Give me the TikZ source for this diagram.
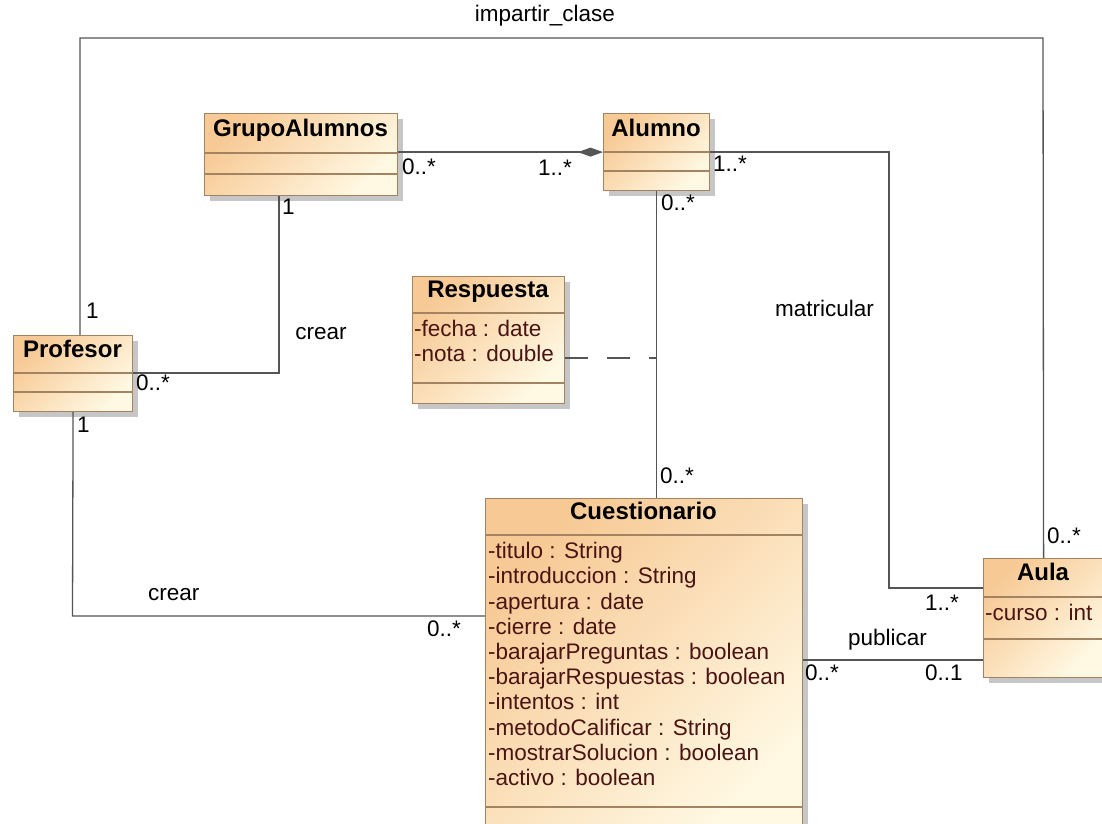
\documentclass[tikz,border=0pt]{standalone}
\usepackage{fontspec}
\setmainfont{Liberation Sans}
\usetikzlibrary{arrows.meta,shadows,calc}
\definecolor{ctop}{RGB}{247,201,148}
\definecolor{cbot}{RGB}{255,249,228}
\definecolor{bordc}{RGB}{163,131,98}
\definecolor{linec}{RGB}{85,85,85}
\definecolor{attrc}{RGB}{75,20,20}
\definecolor{shadc}{RGB}{192,192,192}
\begin{document}
\begin{tikzpicture}[x=1pt,y=-1pt,
  cls/.style={rectangle, draw=bordc, line width=1.2pt, top color=ctop, bottom color=cbot, shading angle=45, inner sep=0pt, anchor=north west,
    drop shadow={shadow xshift=5pt, shadow yshift=-5pt, fill=shadc, opacity=0.9}},
  sep/.style={draw=bordc, line width=1.2pt},
  cname/.style={font=\fontsize{24}{28}\selectfont\bfseries, inner sep=0pt, text height=0.72em, text depth=0pt},
  attr/.style={font=\fontsize{22.5}{26}\selectfont, text=attrc, anchor=west, inner sep=0pt, text height=0.72em, text depth=0pt},
  lbl/.style={font=\fontsize{22.5}{26}\selectfont, inner sep=0pt, anchor=west, text height=0.72em, text depth=0pt},
  conn/.style={draw=linec, line width=1.3pt},
]
\useasboundingbox (0,0) rectangle (1102,823);
\fill[white] (0,0) rectangle (1102,823);
\clip (0,0) rectangle (1102,823);

% ---- class boxes ----
\node[cls, minimum width=193pt, minimum height=82pt] (GA) at (204,113) {};
\node[cls, minimum width=106pt, minimum height=77pt] (AL) at (603,113) {};
\node[cls, minimum width=152pt, minimum height=127pt] (RE) at (412,276) {};
\node[cls, minimum width=119pt, minimum height=76pt] (P) at (13,335) {};
\node[cls, minimum width=317pt, minimum height=340pt] (CU) at (485,498) {};
\node[cls, minimum width=120pt, minimum height=119pt] (AU) at (983,558) {};

% compartments
\draw[sep] (204,153) -- (397,153) (204,174) -- (397,174);
\draw[sep] (603,152) -- (709,152) (603,171) -- (709,171);
\draw[sep] (412,313) -- (564,313) (412,383) -- (564,383);
\draw[sep] (13,373) -- (132,373) (13,392) -- (132,392);
\draw[sep] (485,535) -- (802,535) (485,807) -- (802,807);
\draw[sep] (983,597) -- (1103,597) (983,639) -- (1103,639);

% names
\node[cname] (GAn) at (300.5,133) {GrupoAlumnos};
\node[cname] (ALn) at (656,132.5) {Alumno};
\node[cname] (REn) at (488,294) {Respuesta};
\node[cname] (Pn) at (72.5,354) {Profesor};
\node[cname] (CUn) at (643.5,516) {Cuestionario};
\node[cname] (AUn) at (1043,577) {Aula};

% attributes
\node[attr] (ra1) at (414,333) {-fecha : date};
\node[attr] (ra2) at (414,358) {-nota : double};
\node[attr] (ca1) at (488,555) {-titulo : String};
\node[attr] (ca2) at (488,580.2) {-introduccion : String};
\node[attr] (ca3) at (488,605.4) {-apertura : date};
\node[attr] (ca4) at (488,630.6) {-cierre : date};
\node[attr] (ca5) at (488,655.8) {-barajarPreguntas : boolean};
\node[attr] (ca6) at (488,681) {-barajarRespuestas : boolean};
\node[attr] (ca7) at (488,706.2) {-intentos : int};
\node[attr] (ca8) at (488,731.4) {-metodoCalificar : String};
\node[attr] (ca9) at (488,756.6) {-mostrarSolucion : boolean};
\node[attr] (ca10) at (488,781.8) {-activo : boolean};
\node[attr] (aa1) at (985,617) {-curso : int};

% ---- connectors ----
\coordinate (i1) at (80,38);
\coordinate (i2) at (1043,38);
\draw[conn] (i1 |- P.north) -- (i1) -- (i2) -- (AU.north);

\draw[conn, -{Diamond[length=25pt,width=9pt,fill=linec]}] (GA.east |- AL.west) -- (AL.west);

\coordinate (m1) at (889,152);
\coordinate (m2) at (889,588);
\draw[conn] (m1 -| AL.east) -- (m1) -- (m2) -- (m2 -| AU.west);

\draw[conn] (AL.south) -- (AL.south |- CU.north);

\coordinate (d1) at (657,358);
\draw[conn, dash pattern=on 23pt off 19pt] (d1 -| RE.east) -- (d1);

\coordinate (c1) at (279,373);
\draw[conn] (c1 -| P.east) -- (c1) -- (c1 |- GA.south);

\coordinate (c2) at (72.5,616);
\draw[conn] (P.south) -- (c2) -- (c2 -| CU.west);

\coordinate (p1) at (900,660);
\draw[conn] (p1 -| CU.east) -- (p1 -| AU.west);

% ---- labels ----
\node[lbl, anchor=center] (Limp) at (545,18) {impartir\_clase};
\node[lbl] (L1) at (86,315) {1};
\node[lbl] (L2) at (1047,540) {0..*};
\node[lbl] (L3) at (402,171) {0..*};
\node[lbl] (L4) at (538,172) {1..*};
\node[lbl] (L5) at (713,168) {1..*};
\node[lbl] (L6) at (661,207) {0..*};
\node[lbl] (L7) at (282,211) {1};
\node[lbl, anchor=center] (L8) at (321,336) {crear};
\node[lbl] (L9) at (136,387) {0..*};
\node[lbl] (L10) at (77,429) {1};
\node[lbl] (L11) at (148,597) {crear};
\node[lbl] (L12) at (427,633) {0..*};
\node[lbl] (L13) at (660,480) {0..*};
\node[lbl] (L14) at (775,313) {matricular};
\node[lbl] (L15) at (925,607) {1..*};
\node[lbl] (L16) at (848,642) {publicar};
\node[lbl] (L17) at (805,677) {0..*};
\node[lbl] (L18) at (925,677) {0..1};
\end{tikzpicture}
\end{document}
